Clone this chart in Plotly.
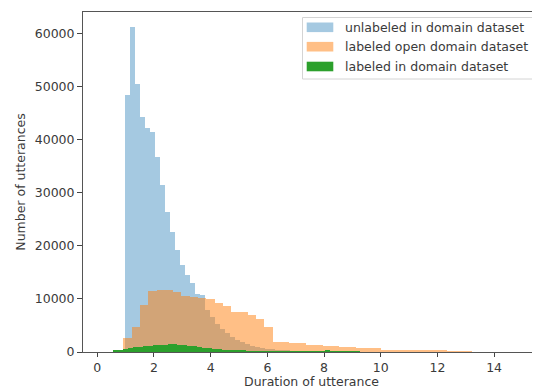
import plotly.graph_objects as go

# ---------------- data ----------------
# histogram bin layout: first left edge and bin width (x units = duration)
BLUE_START, BLUE_WIDTH = 0.977, 0.1764
ORANGE_START, ORANGE_WIDTH = 0.917, 0.293
GREEN_START, GREEN_WIDTH = 0.565, 0.174

BLUE_COUNTS = [48450, 61180, 50530, 44250, 42130, 41430, 36730, 31400, 26400, 22600,
               19200, 16400, 14500, 12900, 11000, 10700, 8000, 6500, 5300, 4300,
               3500, 2800, 2200, 1800, 1450, 1150, 950, 800, 650, 550,
               450, 380, 320, 270, 230, 200, 170, 150, 130, 110,
               100, 90, 80, 70, 60, 50, 45, 40, 35, 30]

ORANGE_COUNTS = [2580, 4720, 8840, 11500, 11750, 11660, 11250, 10600, 10400, 10250,
                 9910, 9160, 8650, 7580, 7450, 6960, 6150, 4760, 1950, 1850,
                 1750, 1650, 1350, 1250, 1150, 1100, 950, 850, 800, 750,
                 700, 450, 420, 400, 380, 360, 340, 320, 300, 280,
                 120, 100, 90, 80, 70, 60, 50, 40]

GREEN_COUNTS = [250, 450, 600, 750, 850, 1000, 1100, 1200, 1300, 1350,
                1400, 1450, 1450, 1400, 1300, 1200, 1050, 950, 800, 700,
                600, 500, 420, 350, 290, 240, 200, 170, 140, 120,
                100, 90, 80, 70, 60, 55, 50, 45, 40, 40,
                35, 35, 30, 250, 150, 30, 25, 20, 20, 15]

SERIES_NAMES = ["unlabeled in domain dataset",
                "labeled open domain dataset",
                "labeled in domain dataset"]
SERIES_COLORS = ["rgba(31,119,180,0.4)", "rgba(255,127,14,0.5)", "rgba(44,160,44,1)"]

X_TICKS = [0, 2, 4, 6, 8, 10, 12, 14]
Y_TICKS = [0, 10000, 20000, 30000, 40000, 50000, 60000]
X_TITLE = "Duration of utterance"
Y_TITLE = "Number of utterances"


def centers(start, width, n):
    return [start + width * (i + 0.5) for i in range(n)]


FONT = "DejaVu Sans"
TXT = "#3a3a3a"
FS = 12.5

fig = go.Figure()
for counts, start, width, name, color in [
    (BLUE_COUNTS, BLUE_START, BLUE_WIDTH, SERIES_NAMES[0], SERIES_COLORS[0]),
    (ORANGE_COUNTS, ORANGE_START, ORANGE_WIDTH, SERIES_NAMES[1], SERIES_COLORS[1]),
    (GREEN_COUNTS, GREEN_START, GREEN_WIDTH, SERIES_NAMES[2], SERIES_COLORS[2]),
]:
    fig.add_trace(go.Bar(
        x=centers(start, width, len(counts)), y=counts, width=width,
        name=name, marker=dict(color=color, line=dict(width=0)),
        showlegend=False, hoverinfo="x+y+name",
    ))

# the page body adds an 8px offset; the figure is sized to fit the window
OFF = 8
W, H = 540 - OFF, 389 - OFF
# plot area in window pixels: left 83, top 12, right 540, bottom 352
L, T = 83 - OFF, 12 - OFF
R, B = W - (540 - OFF), H - (352 - OFF)
PW, PH = W - L - R, H - T - B


def px(xw):
    return (xw - OFF - L) / PW


def py(yw):
    return (H - B - (yw - OFF)) / PH


shapes = [dict(type="rect", xref="paper", yref="paper",
               x0=px(302.5), x1=px(538), y0=py(17.5), y1=py(79),
               line=dict(color="#d4d4d4", width=1), fillcolor="rgba(255,255,255,0.85)",
               layer="above")]
annotations = []
rows = [27.3, 46.7, 66.5]
for yc, name, color in zip(rows, SERIES_NAMES, SERIES_COLORS):
    shapes.append(dict(type="rect", xref="paper", yref="paper",
                       x0=px(306.7), x1=px(333.3), y0=py(yc - 4.8), y1=py(yc + 4.8),
                       line=dict(width=0), fillcolor=color, layer="above"))
    annotations.append(dict(xref="paper", yref="paper", x=px(342.5), y=py(yc),
                            xanchor="left", yanchor="middle", showarrow=False,
                            text=name, font=dict(family=FONT, size=FS, color=TXT)))

fig.update_layout(
    width=W, height=H,
    margin=dict(l=L, r=R, t=T, b=B, autoexpand=False),
    paper_bgcolor="white", plot_bgcolor="white",
    barmode="overlay", bargap=0,
    shapes=shapes, annotations=annotations,
    font=dict(family=FONT, size=FS, color=TXT),
    xaxis=dict(range=[-0.505, 15.62], tickvals=X_TICKS, ticks="outside", ticklen=4,
               tickcolor="#444", showline=True, linecolor="#555", linewidth=1,
               mirror=True, showgrid=False, zeroline=False,
               tickfont=dict(family=FONT, size=FS, color=TXT),
               title=dict(text=X_TITLE, standoff=2,
                          font=dict(family=FONT, size=FS, color=TXT))),
    yaxis=dict(range=[0, 64000], tickvals=Y_TICKS, tickformat="d", ticks="outside",
               ticklen=5, tickcolor="#444", showline=True, linecolor="#555",
               linewidth=1, showgrid=False, zeroline=False,
               tickfont=dict(family=FONT, size=FS, color=TXT),
               title=dict(text=Y_TITLE, standoff=6,
                          font=dict(family=FONT, size=FS, color=TXT))),
)

fig.write_html("out.html")
